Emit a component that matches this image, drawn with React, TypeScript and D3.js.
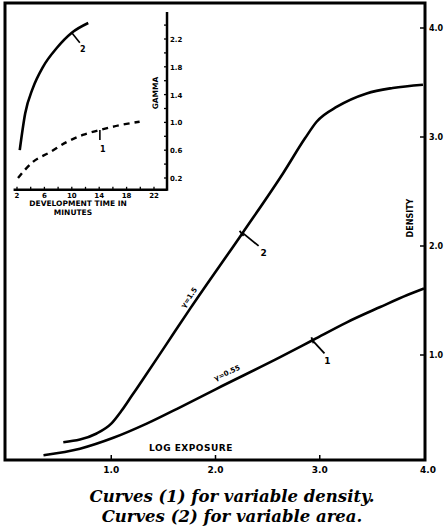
import React from "react";
import * as d3 from "d3";

// Main chart data (log exposure vs density)
const curve2X = [0.54, 0.86, 1.0, 1.1, 1.2, 1.30, 1.53, 1.76, 2.26, 2.65, 2.86, 2.97, 3.17, 3.45, 3.70, 3.99];
const curve2Y = [0.20, 0.28, 0.37, 0.49, 0.63, 0.77, 1.10, 1.43, 2.12, 2.67, 2.99, 3.14, 3.28, 3.40, 3.45, 3.48];
const curve1X = [0.35, 0.70, 1.02, 1.34, 1.66, 2.01, 2.62, 2.94, 3.26, 3.58, 3.84, 4.0];
const curve1Y = [0.08, 0.14, 0.24, 0.37, 0.52, 0.69, 0.98, 1.14, 1.30, 1.44, 1.55, 1.61];
const mainXTicks = [1.0, 2.0, 3.0, 4.0];
const mainYTicks = [1.0, 2.0, 3.0, 4.0];

// Inset data (development time vs gamma)
const inset2X = [2.4, 3.2, 4.3, 5.8, 7.8, 10, 12.4];
const inset2Y = [0.6, 1.13, 1.49, 1.8, 2.07, 2.29, 2.43];
const inset1X = [2.15, 4.3, 6.8, 9.3, 11.6, 14.1, 17.0, 19.9];
const inset1Y = [0.2, 0.43, 0.57, 0.72, 0.82, 0.89, 0.96, 1.01];
const insetXTicks = [2, 6, 10, 14, 18, 22];
const insetYTicks = [0.2, 0.6, 1.0, 1.4, 1.8, 2.2];

const F = "'DejaVu Sans', sans-serif";

export default function App() {
  const x = d3.scaleLinear().domain([0, 4]).range([7, 424]);
  const y = d3.scaleLinear().domain([0, 4]).range([464, 28]);
  const ix = d3.scaleLinear().domain([2, 22]).range([17, 154]);
  const iy = d3.scaleLinear().domain([0.2, 2.2]).range([178, 39]);

  const line = d3.line<[number, number]>().curve(d3.curveMonotoneX);
  const c2 = line.x(d => x(d[0])).y(d => y(d[1]))(curve2X.map((v, i) => [v, curve2Y[i]]))!;
  const c1 = line.x(d => x(d[0])).y(d => y(d[1]))(curve1X.map((v, i) => [v, curve1Y[i]]))!;
  const iline = d3.line<[number, number]>().curve(d3.curveMonotoneX).x(d => ix(d[0])).y(d => iy(d[1]));
  const i2 = iline(inset2X.map((v, i) => [v, inset2Y[i]]))!;
  const i1 = iline(inset1X.map((v, i) => [v, inset1Y[i]]))!;

  const L = 5, T = 3, R = 425, B = 460;
  const iR = ix(23.9), iB = iy(0.03), iL = ix(1.5), iT = 12;
  const insetMinorX = d3.range(2, 23, 2);
  const insetMinorY = d3.range(0.2, 2.41, 0.2);

  // annotation anchor points
  const a2 = [x(2.26), y(2.12)];
  const a1 = [x(2.93), y(1.135)];

  return (
    <svg width={446} height={526} style={{ position: "absolute", left: 0, top: 0, background: "#fff" }}>
      {/* frame */}
      <rect x={L} y={T} width={R - L} height={B - T} fill="none" stroke="#000" strokeWidth={3} />
      {/* main x ticks */}
      {mainXTicks.slice(0, 3).map(t => (
        <line key={"xt" + t} x1={x(t)} x2={x(t)} y1={B} y2={B - 5} stroke="#000" strokeWidth={1.5} />
      ))}
      {mainXTicks.map(t => (
        <text key={"xl" + t} x={x(t) + (t === 4 ? 4 : 0)} y={B + 13} fontFamily={F} fontWeight="bold" fontSize={9} textAnchor="middle">{t.toFixed(1)}</text>
      ))}
      {/* main y ticks */}
      {mainYTicks.map(t => (
        <g key={"yt" + t}>
          <line x1={R} x2={R - 5} y1={y(t)} y2={y(t)} stroke="#000" strokeWidth={1.5} />
          <text x={R + 4} y={y(t) + 3} fontFamily={F} fontWeight="bold" fontSize={8}>{t.toFixed(1)}</text>
        </g>
      ))}
      <text transform={`translate(${413},${218}) rotate(-90)`} fontFamily={F} fontWeight="bold" fontSize={8} textAnchor="middle">DENSITY</text>
      <text x={191} y={451} fontFamily={F} fontWeight="bold" fontSize={9} textAnchor="middle" letterSpacing={0.5}>LOG  EXPOSURE</text>

      {/* main curves */}
      <path d={c2} fill="none" stroke="#000" strokeWidth={2.6} />
      <path d={c1} fill="none" stroke="#000" strokeWidth={2.6} />
      {/* gamma annotations */}
      <text transform={`translate(${191},${299}) rotate(-56)`} fontFamily={F} fontWeight="bold" fontSize={7} textAnchor="middle">γ=1.5</text>
      <text transform={`translate(${228},${375}) rotate(-25)`} fontFamily={F} fontWeight="bold" fontSize={7} textAnchor="middle">γ=0.55</text>
      {/* curve labels */}
      <line x1={a2[0]} y1={a2[1]} x2={a2[0] + 16} y2={a2[1] + 13} stroke="#000" strokeWidth={1.8} />
      <line x1={a2[0] - 3} y1={a2[1] - 2} x2={a2[0] + 1} y2={a2[1] + 3} stroke="#000" strokeWidth={1.8} />
      <text x={a2[0] + 21} y={a2[1] + 23} fontFamily={F} fontWeight="bold" fontSize={9} textAnchor="middle">2</text>
      <line x1={a1[0]} y1={a1[1]} x2={a1[0] + 12} y2={a1[1] + 13} stroke="#000" strokeWidth={1.8} />
      <line x1={a1[0] - 1} y1={a1[1] - 3} x2={a1[0] + 1} y2={a1[1] + 3} stroke="#000" strokeWidth={1.8} />
      <text x={a1[0] + 15} y={a1[1] + 24} fontFamily={F} fontWeight="bold" fontSize={9} textAnchor="middle">1</text>

      {/* inset axes */}
      <line x1={iL} x2={iR} y1={iB} y2={iB} stroke="#000" strokeWidth={2.5} />
      <line x1={iR} x2={iR} y1={iT} y2={iB + 1} stroke="#000" strokeWidth={2.5} />
      {insetMinorX.map(t => (
        <line key={"ixm" + t} x1={ix(t)} x2={ix(t)} y1={iB} y2={iB - 3} stroke="#000" strokeWidth={1.3} />
      ))}
      {insetMinorY.map(t => (
        <line key={"iym" + t} x1={iR} x2={iR - 3} y1={iy(t)} y2={iy(t)} stroke="#000" strokeWidth={1.3} />
      ))}
      {insetXTicks.map(t => (
        <text key={"ixl" + t} x={ix(t)} y={iB + 8} fontFamily={F} fontWeight="bold" fontSize={7} textAnchor="middle">{t}</text>
      ))}
      {insetYTicks.map(t => (
        <text key={"iyl" + t} x={iR + 3} y={iy(t) + 3} fontFamily={F} fontWeight="bold" fontSize={7}>{t.toFixed(1)}</text>
      ))}
      <text transform={`translate(${158},${93}) rotate(-90)`} fontFamily={F} fontWeight="bold" fontSize={7.5} textAnchor="middle">GAMMA</text>
      <text x={78} y={206} fontFamily={F} fontWeight="bold" fontSize={7.5} textAnchor="middle">DEVELOPMENT  TIME  IN</text>
      <text x={73} y={215} fontFamily={F} fontWeight="bold" fontSize={7.5} textAnchor="middle">MINUTES</text>
      {/* inset curves */}
      <path d={i2} fill="none" stroke="#000" strokeWidth={2.6} />
      <path d={i1} fill="none" stroke="#000" strokeWidth={2.4} strokeDasharray="6,5" />
      {/* inset labels */}
      <line x1={ix(10)} y1={iy(2.29)} x2={ix(10) + 8} y2={iy(2.29) + 10} stroke="#000" strokeWidth={1.6} />
      <text x={ix(10) + 11} y={iy(2.29) + 19} fontFamily={F} fontWeight="bold" fontSize={8} textAnchor="middle">2</text>
      <line x1={ix(14.1)} y1={iy(0.89)} x2={ix(14.1)} y2={iy(0.89) + 10} stroke="#000" strokeWidth={1.6} />
      <text x={ix(14.1) + 3} y={iy(0.89) + 22} fontFamily={F} fontWeight="bold" fontSize={8} textAnchor="middle">1</text>

      {/* caption */}
      <text x={232} y={502} fontFamily="'DejaVu Serif', serif" fontStyle="italic" fontWeight="bold" fontSize={16.5} textAnchor="middle">Curves (1) for variable density.</text>
      <text x={232} y={522} fontFamily="'DejaVu Serif', serif" fontStyle="italic" fontWeight="bold" fontSize={16.5} textAnchor="middle">Curves (2) for variable area.</text>
    </svg>
  );
}
